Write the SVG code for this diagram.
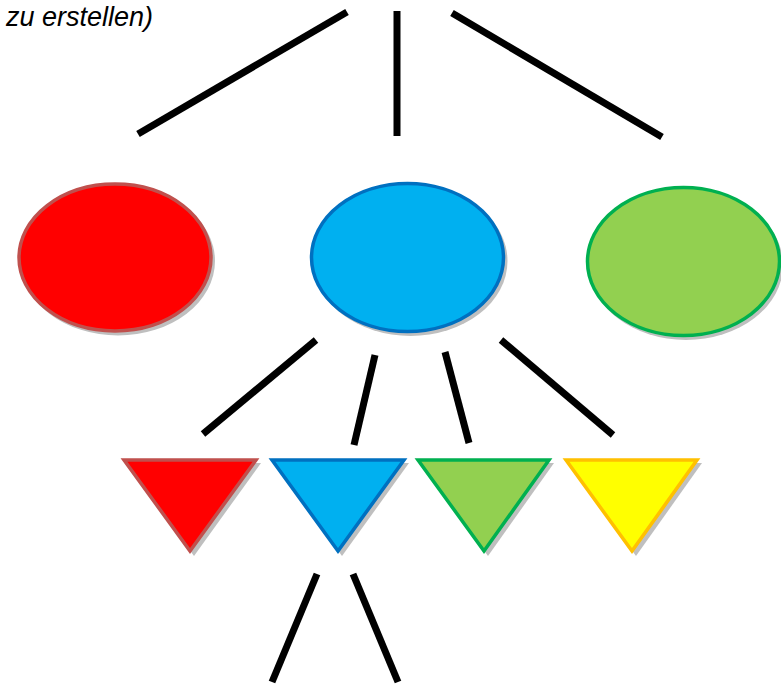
<svg xmlns="http://www.w3.org/2000/svg" width="781" height="687" viewBox="0 0 781 687">
<style>
.conn line{stroke:#000;stroke-width:7;stroke-linecap:butt}
.shadow{fill:#bfbfbf}
.lbl{font-family:"Liberation Sans",Arial,sans-serif;font-style:italic;font-size:27px;fill:#000}
</style>
<rect width="781" height="687" fill="#fff"/>
<text class="lbl" x="153" y="26" text-anchor="end">zu erstellen)</text>
<g id="connectors" class="conn">
<line x1="138" y1="134" x2="347" y2="12"/>
<line x1="397" y1="11" x2="397" y2="136"/>
<line x1="452" y1="13" x2="662" y2="137"/>
<line x1="203" y1="434" x2="316" y2="340"/>
<line x1="375" y1="355" x2="354" y2="445"/>
<line x1="445" y1="352" x2="469" y2="443"/>
<line x1="501" y1="340" x2="613" y2="435"/>
<line x1="317" y1="574" x2="272" y2="682"/>
<line x1="353" y1="574" x2="398" y2="682"/>
</g>
<g id="ellipse-red">
<ellipse class="shadow" cx="118" cy="261" rx="97" ry="74.5"/>
<ellipse cx="115" cy="257.5" rx="96" ry="73.5" fill="#ff0000" stroke="#c0504d" stroke-width="3.5"/>
</g>
<g id="ellipse-blue">
<ellipse class="shadow" cx="410.5" cy="261" rx="97" ry="75"/>
<ellipse cx="407.5" cy="257.5" rx="96" ry="74" fill="#00b0f0" stroke="#0070c0" stroke-width="3.5"/>
</g>
<g id="ellipse-green">
<ellipse class="shadow" cx="686" cy="265" rx="97" ry="75"/>
<ellipse cx="683.5" cy="261.5" rx="96" ry="74" fill="#92d050" stroke="#00b050" stroke-width="3.5"/>
</g>
<g id="tri-red">
<polygon class="shadow" points="127,463 261,463 194,556"/>
<polygon points="124,460 256,460 190,551" fill="#ff0000" stroke="#c0504d" stroke-width="3.5" stroke-linejoin="miter"/>
</g>
<g id="tri-blue">
<polygon class="shadow" points="275,463 409,463 342,556"/>
<polygon points="272,460 404,460 338,551" fill="#00b0f0" stroke="#0070c0" stroke-width="3.5"/>
</g>
<g id="tri-green">
<polygon class="shadow" points="421,463 554,463 488,556"/>
<polygon points="418,460 549,460 484,551" fill="#92d050" stroke="#00b050" stroke-width="3.5"/>
</g>
<g id="tri-yellow">
<polygon class="shadow" points="569,463 702,463 636,556"/>
<polygon points="566,460 697,460 632,551" fill="#ffff00" stroke="#ffc000" stroke-width="3.5"/>
</g>
</svg>
